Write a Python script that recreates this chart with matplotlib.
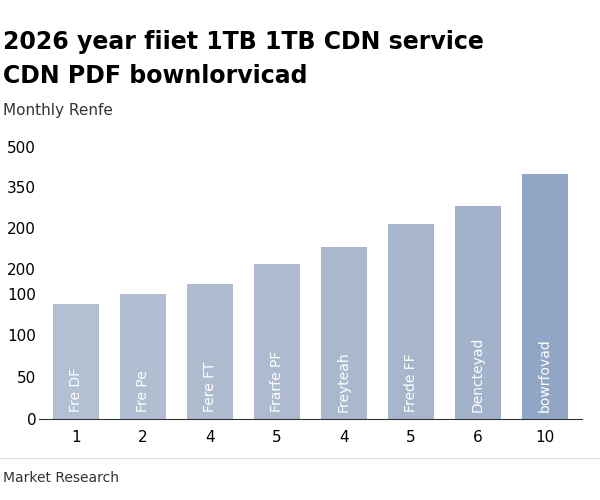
import matplotlib
matplotlib.use("Agg")
import matplotlib.pyplot as plt

xlabels = ["1", "2", "4", "5", "4", "5", "6", "10"]
bar_text = ["Fre DF", "Fre Pe", "Fere FT", "Frarfe PF", "Freyteah", "Frede FF", "Dencteyad", "bowrfovad"]
values = [138, 150, 162, 185, 206, 233, 255, 293]
ytick_pos = [0, 50, 100, 150, 180, 229, 277, 326]
ytick_labels = ["0", "50", "100", "100", "200", "200", "350", "500"]
colors = ["#b3c0d2", "#b1bed1", "#afbcd0", "#adbacf", "#aab8ce", "#a7b6cd", "#a2b2cb", "#91a6c4"]

fig = plt.figure(figsize=(6, 5), dpi=100)
ax = fig.add_axes([0.065, 0.162, 0.905, 0.56])
xs = range(len(values))
ax.bar(xs, values, width=0.68, color=colors)
for x, v, t in zip(xs, values, bar_text):
    ax.text(x, 8, t, rotation=90, ha="center", va="bottom", color="white", fontsize=10)
ax.set_xticks(list(xs))
ax.set_xticklabels(xlabels, fontsize=11)
ax.set_yticks(ytick_pos)
ax.set_yticklabels(ytick_labels, fontsize=11)
ax.set_ylim(0, 335)
ax.set_xlim(-0.55, 7.55)
for s in ["top", "right", "left"]:
    ax.spines[s].set_visible(False)
ax.spines["bottom"].set_color("#333333")
ax.tick_params(axis="y", length=0, pad=2)
ax.tick_params(axis="x", length=0, pad=8)

fig.text(0.005, 0.915, "2026 year fiiet 1TB 1TB CDN service", fontsize=17, fontweight="semibold", ha="left", va="center")
fig.text(0.005, 0.848, "CDN PDF bownlorvicad", fontsize=17, fontweight="semibold", ha="left", va="center")
fig.text(0.005, 0.778, "Monthly Renfe", fontsize=11, ha="left", va="center", color="#333333")
fig.add_artist(plt.Line2D([0, 1], [0.085, 0.085], color="#dddddd", lw=0.8))
fig.text(0.005, 0.045, "Market Research", fontsize=10, ha="left", va="center", color="#333333")
fig.savefig("out.png", dpi=100)
